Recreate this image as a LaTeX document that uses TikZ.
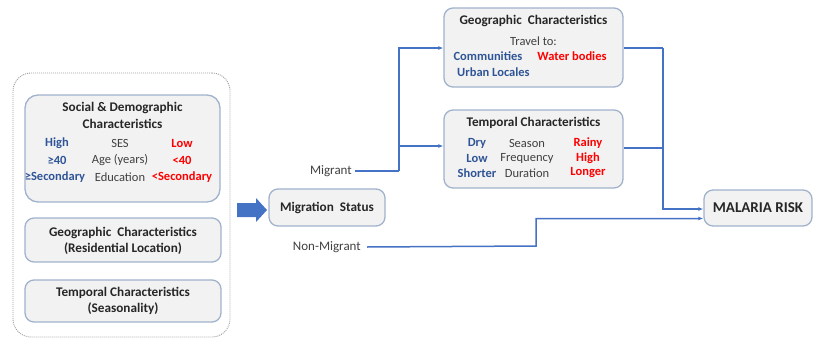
\documentclass[tikz,border=0pt]{standalone}
\usepackage{fontspec}
\setmainfont{Carlito}
\usetikzlibrary{arrows.meta}
\definecolor{lineblue}{RGB}{68,114,196}
\definecolor{txtblue}{RGB}{47,85,151}
\definecolor{txtred}{RGB}{255,0,0}
\definecolor{txtgray}{RGB}{64,64,64}
\definecolor{boxfill}{RGB}{242,242,242}
\definecolor{boxline}{RGB}{160,178,204}
\tikzset{
  card/.style={draw=boxline, line width=1.3pt, fill=boxfill, rounded corners=9pt, inner sep=0pt},
  tb/.style={inner sep=0pt, font=\fontsize{13.2}{15}\selectfont\bfseries, text=black!85},
  tbl/.style={inner sep=0pt, font=\fontsize{12.5}{14}\selectfont\bfseries, text=txtblue},
  tr/.style={inner sep=0pt, font=\fontsize{12.5}{14}\selectfont\bfseries, text=txtred},
  tg/.style={inner sep=0pt, font=\fontsize{12.5}{14}\selectfont, text=txtgray},
  conn/.style={draw=lineblue, line width=1.5pt},
  arr/.style={conn, -{Latex[length=5pt,width=4pt]}},
}
\begin{document}
\begin{tikzpicture}[x=1pt,y=-1pt]
\useasboundingbox (0,0) rectangle (814,343);
% outer dashed group
\node[draw=gray!75, dash pattern=on 1pt off 1pt, line width=0.9pt, rounded corners=18pt, minimum width=217pt, minimum height=264pt, inner sep=0pt] (outer) at (121.5,205) {};
% social box
\node[card, rounded corners=13pt, minimum width=195pt, minimum height=107pt] (social) at (122.5,148.5) {};
\node[tb] (s1) at (122.5,108) {Social \& Demographic};
\node[tb] (s2) at (122.5,124) {Characteristics};
\node[tbl] (a1) at (57,143) {High};
\node[tg] (a2) at (120,143) {SES};
\node[tr] (a3) at (182,143) {Low};
\node[tbl] (b1) at (57,160) {≥40};
\node[tg] (b2) at (120,160) {Age (years)};
\node[tr] (b3) at (182,160) {<40};
\node[tbl] (c1) at (55,177) {≥Secondary};
\node[tg] (c2) at (120,177) {Education};
\node[tr] (c3) at (182,177) {<Secondary};
% residential
\node[card, minimum width=196pt, minimum height=44pt] (georesbox) at (123,240) {};
\node[tb] (gr1) at (123,233) {Geographic\ \ Characteristics};
\node[tb] (gr2) at (123,249) {(Residential Location)};
% seasonality
\node[card, minimum width=196pt, minimum height=42pt] (seasbox) at (123,301) {};
\node[tb] (ts1) at (123,293) {Temporal Characteristics};
\node[tb] (ts2) at (123,309) {(Seasonality)};
% big block arrow
\fill[lineblue] (237,203) -- (256,203) -- (256,198) -- (267,210) -- (256,222) -- (256,217) -- (237,217) -- cycle;
% migration status
\node[card, minimum width=116pt, minimum height=37pt, font=\fontsize{13.2}{15}\selectfont\bfseries, text=black!85] (mig) at (327,207.5) {Migration\ \ Status};
% geographic travel
\node[card, minimum width=179pt, minimum height=79pt] (geo) at (533.5,47.5) {};
\node[tb] (g1) at (533.5,21) {Geographic\ \ Characteristics};
\node[tg] (g2) at (533.5,41) {Travel to:};
\node[tbl] (g3) at (488,56) {Communities};
\node[tr] (g4) at (572,56) {Water bodies};
\node[tbl, anchor=west] (g5) at (457,72) {Urban Locales};
% temporal
\node[card, minimum width=179pt, minimum height=78pt] (temp) at (533.5,149) {};
\node[tb] (t0) at (533.5,123) {Temporal Characteristics};
\node[tbl] (t1) at (477,143) {Dry};
\node[tg] (t2) at (527,143) {Season};
\node[tr] (t3) at (588,143) {Rainy};
\node[tbl] (t4) at (477,158) {Low};
\node[tg] (t5) at (527,158) {Frequency};
\node[tr] (t6) at (588,158) {High};
\node[tbl] (t7) at (477,173) {Shorter};
\node[tg] (t8) at (527,173) {Duration};
\node[tr] (t9) at (588,173) {Longer};
% malaria risk
\node[card, minimum width=108pt, minimum height=36pt, font=\fontsize{15}{17}\selectfont\bfseries, text=black!85] (risk) at (758,208) {MALARIA RISK};
% labels
\node[inner sep=0pt, anchor=east, font=\fontsize{13}{15}\selectfont, text=txtgray] (migrant) at (352,171) {Migrant};
\node[inner sep=0pt, anchor=east, font=\fontsize{13}{15}\selectfont, text=txtgray] (nonmig) at (361,247) {Non-Migrant};
% connectors
\coordinate (jm) at (399,171);
\coordinate (jr) at (663,48);
\draw[conn] ([xshift=3pt]migrant.east) -- (jm);
\draw[arr] (jm) |- (geo.west |- 0,48);
\draw[arr] (jm) |- (temp.west |- 0,146);
\draw[conn] (geo.east |- 0,48) -- (jr);
\draw[conn] (temp.east |- 0,148) -- (663,148);
\draw[arr] (jr) |- (risk.west |- 0,209);
\draw[arr] ([xshift=6pt]nonmig.east) -- (536,246) |- (risk.west |- 0,218.5);
\end{tikzpicture}
\end{document}
